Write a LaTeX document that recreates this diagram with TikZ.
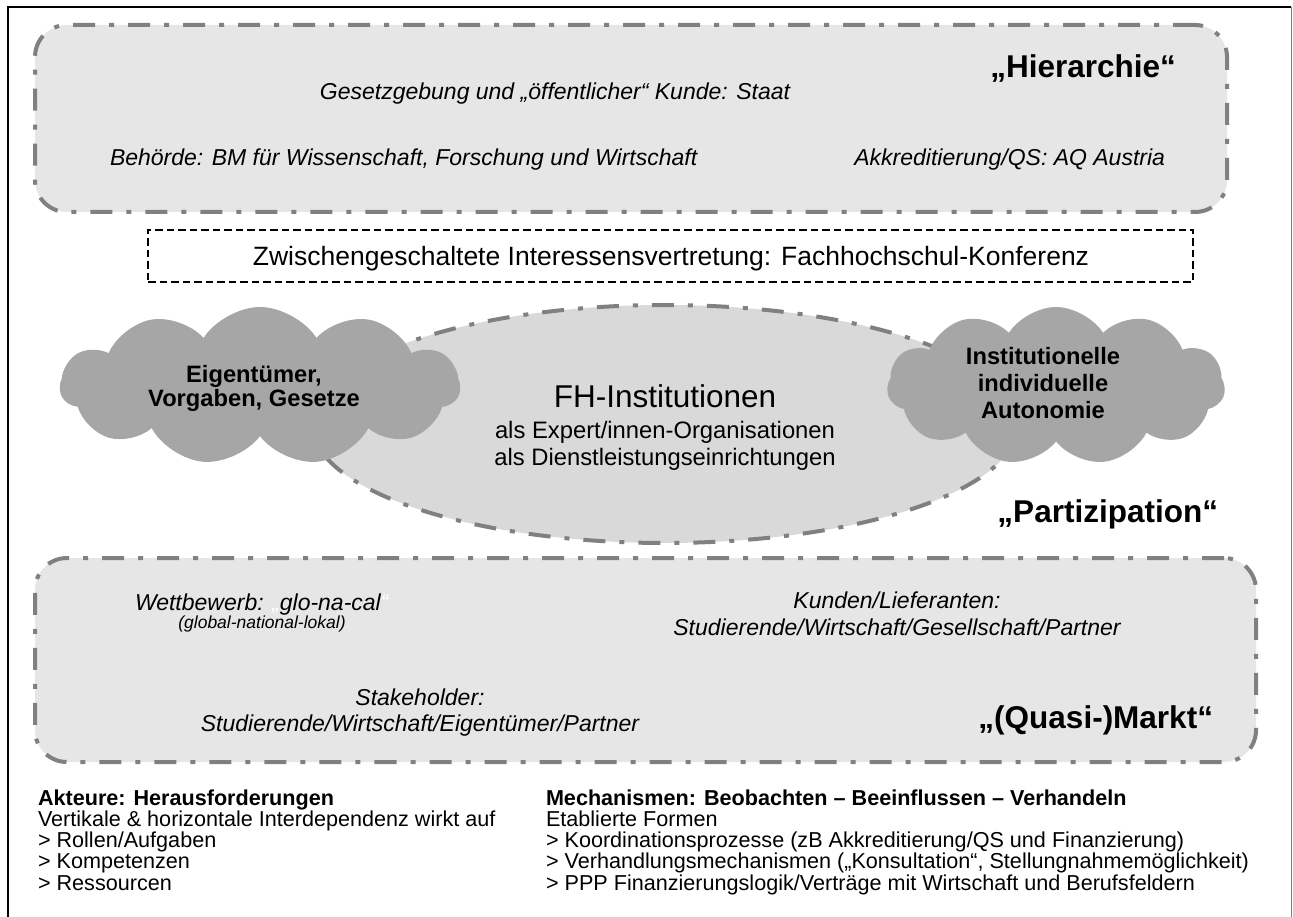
\documentclass[tikz,border=0pt]{standalone}
\usepackage{fontspec}
\setmainfont{Liberation Sans}
\usetikzlibrary{shapes.geometric,shapes.symbols}

\definecolor{boxfill}{HTML}{E6E6E6}
\definecolor{ellfill}{HTML}{D9D9D9}
\definecolor{cloudfill}{HTML}{A6A6A6}
\definecolor{rimgray}{HTML}{808080}

\newcommand\fsz[2]{\fontsize{#1}{#2}\selectfont}

\begin{document}
\begin{tikzpicture}[x=1pt,y=-1pt,
  rimline/.style={draw=rimgray, line width=4pt,
    dash pattern=on 22pt off 14pt on 5pt off 14pt},
  sector/.style={rimline, fill=boxfill, rounded corners=32pt, inner sep=0pt},
  interbox/.style={draw=black, line width=1.3pt, dash pattern=on 7.5pt off 4pt,
    inner sep=0pt},
  puff/.style={cloud, cloud puffs=11, cloud puff arc=115, cloud ignores aspect,
    fill=cloudfill, inner sep=0pt},
  txt/.style={inner sep=0pt, outer sep=0pt},
  itx/.style={txt, font=\itshape\fsz{23}{27}},
  tag/.style={txt, font=\bfseries\fsz{31.5}{36}},
  cloudtxt/.style={txt, font=\bfseries\fsz{23.7}{27}},
  note/.style={txt, font=\fsz{21.6}{23}},
  notehead/.style={txt, font=\bfseries\fsz{21.6}{23}}
]
\useasboundingbox (0,0) rectangle (1293,917);

% page frame
\coordinate (ftl) at (8,7);
\coordinate (ftr) at (1291,7);
\coordinate (fbl) at (8,917);
\coordinate (fbr) at (1291,917);
\draw[line width=2.5pt] (fbl) -- (ftl) -- (ftr);
\draw[gray, line width=1pt] (ftr) -- (fbr);

% upper sector: hierarchy
\node[sector, minimum width=1192pt, minimum height=187pt] (hier) at (631,118.5) {};
\node[itx, anchor=base] (gesetz) at (555,100) {Gesetzgebung und „öffentlicher“ Kunde: Staat};
\node[itx, anchor=base west] (behoerde) at (110,166) {Behörde: BM für Wissenschaft, Forschung und Wirtschaft};
\node[itx, anchor=base east] (akkr) at (1165,166) {Akkreditierung/QS: AQ Austria};
\node[tag, anchor=base east] (hiertag) at (1176,78) {„Hierarchie“};

% intermediate representation
\node[interbox, minimum width=1045pt, minimum height=52pt] (fhk) at (670.5,256) {};
\node[txt, font=\fsz{26.5}{30}, anchor=base] (fhktxt) at (671,265.5)
  {Zwischengeschaltete Interessensvertretung: Fachhochschul-Konferenz};

% institutions and the two clouds
\node[ellipse, rimline, fill=ellfill, minimum width=706pt, minimum height=238pt,
  inner sep=0pt] (fh) at (665,424) {};
\node[puff, minimum width=400pt, minimum height=158pt] (owners) at (260,386) {};
\node[puff, minimum width=338pt, minimum height=158pt] (auto) at (1056,386) {};

\node[cloudtxt, anchor=base] (own1) at (254,382) {Eigentümer,};
\node[cloudtxt, anchor=base] (own2) at (254,406) {Vorgaben, Gesetze};
\node[cloudtxt, anchor=base] (aut1) at (1043,364) {Institutionelle};
\node[cloudtxt, anchor=base] (aut2) at (1043,391) {individuelle};
\node[cloudtxt, anchor=base] (aut3) at (1043,418) {Autonomie};

\node[txt, font=\fsz{31.5}{36}, anchor=base] (fhtitle) at (665,407) {FH-Institutionen};
\node[txt, font=\fsz{23.8}{27}, anchor=base] (fhsub1) at (665,438) {als Expert/innen-Organisationen};
\node[txt, font=\fsz{23.8}{27}, anchor=base] (fhsub2) at (665,465) {als Dienstleistungseinrichtungen};

\node[tag, anchor=base east] (parttag) at (1218,522) {„Partizipation“};

% lower sector: (quasi-)market
\node[sector, minimum width=1221pt, minimum height=204pt] (markt) at (645.5,660) {};
\node[itx, anchor=base west] (wettb) at (135,610)
  {Wettbewerb: {\color{white}„}glo-na-cal{\color{white}“}};
\node[txt, font=\itshape\fsz{17.5}{20}, anchor=base] (glonacal) at (262,628) {(global-national-lokal)};
\node[itx, anchor=base] (kunden1) at (897,608) {Kunden/Lieferanten:};
\node[itx, anchor=base] (kunden2) at (897,635) {Studierende/Wirtschaft/Gesellschaft/Partner};
\node[itx, anchor=base] (stake1) at (420,705) {Stakeholder:};
\node[itx, anchor=base] (stake2) at (420,731) {Studierende/Wirtschaft/Eigentümer/Partner};
\node[tag, anchor=base east] (markttag) at (1213,728) {„(Quasi-)Markt“};

% notes below
\node[notehead, anchor=base west] (akt0) at (38,805) {Akteure: Herausforderungen};
\node[note, anchor=base west] (akt1) at (38,826.3) {Vertikale \& horizontale Interdependenz wirkt auf};
\node[note, anchor=base west] (akt2) at (38,847.6) {> Rollen/Aufgaben};
\node[note, anchor=base west] (akt3) at (38,868.9) {> Kompetenzen};
\node[note, anchor=base west] (akt4) at (38,890.2) {> Ressourcen};

\node[notehead, anchor=base west] (mech0) at (546,805) {Mechanismen: Beobachten – Beeinflussen – Verhandeln};
\node[note, anchor=base west] (mech1) at (546,826.3) {Etablierte Formen};
\node[note, anchor=base west] (mech2) at (546,847.6) {> Koordinationsprozesse (zB Akkreditierung/QS und Finanzierung)};
\node[note, anchor=base west] (mech3) at (546,868.9) {> Verhandlungsmechanismen („Konsultation“, Stellungnahmemöglichkeit)};
\node[note, anchor=base west] (mech4) at (546,890.2) {> PPP Finanzierungslogik/Verträge mit Wirtschaft und Berufsfeldern};
\end{tikzpicture}
\end{document}
